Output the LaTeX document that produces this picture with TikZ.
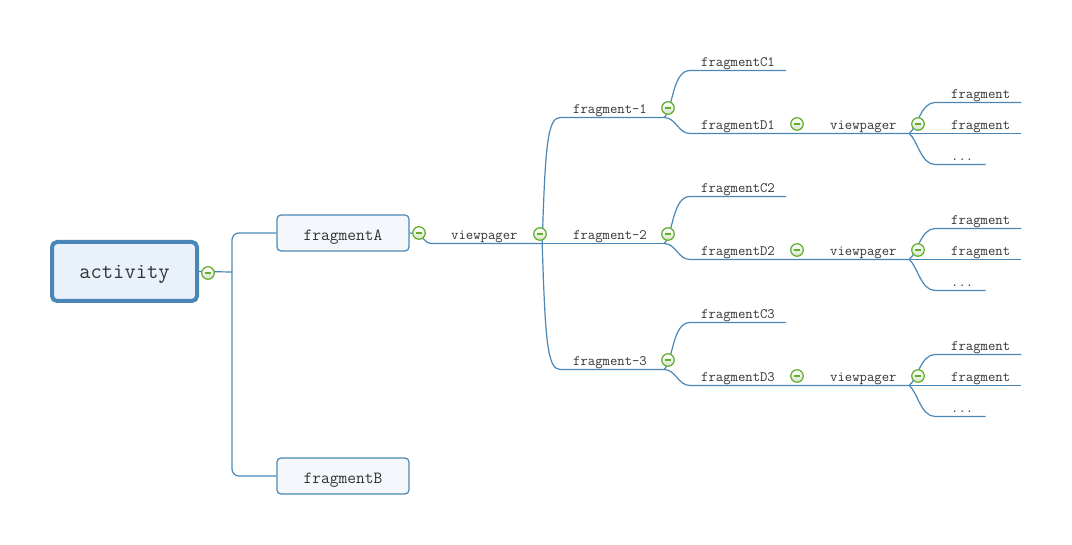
\documentclass[tikz,border=0pt]{standalone}
\usepackage{fontspec}
\usepackage{tikz}

\definecolor{linkblue}{HTML}{4A87B7}
\definecolor{rootfill}{HTML}{E9F1FB}
\definecolor{boxfill}{HTML}{F4F8FD}
\definecolor{foldgreen}{HTML}{62AD2A}
\definecolor{foldfill}{HTML}{D6E3CC}
\definecolor{textgrey}{HTML}{333333}

\tikzset{
  branch/.style={draw=linkblue, line width=1.2pt},
  root/.style={draw=linkblue, line width=4pt, fill=rootfill, rounded corners=5pt,
    minimum width=145pt, minimum height=59pt, text=textgrey,
    text height=18.4pt, text depth=4.8pt,
    font=\ttfamily\fontsize{21.9}{25}\selectfont},
  topic/.style={draw=linkblue, line width=1.2pt, fill=boxfill, rounded corners=4pt,
    minimum width=132pt, minimum height=36pt, text=textgrey,
    text height=18.4pt, text depth=3.7pt,
    font=\ttfamily\fontsize{17}{20}\selectfont},
  sub/.style={anchor=south west, inner xsep=0pt, inner ysep=1pt, text depth=3pt,
    text=textgrey, font=\ttfamily\fontsize{14.3}{17}\selectfont},
  fold/.style={circle, draw=foldgreen, line width=1.2pt, top color=white,
    bottom color=foldfill, minimum size=12.5pt, inner sep=0pt,
    path picture={\draw[foldgreen, line width=1.4pt]
      ([xshift=-3pt]path picture bounding box.center) --
      ([xshift=3pt]path picture bounding box.center);}},
}

\begin{document}
\begin{tikzpicture}[x=1pt, y=-1pt]
\useasboundingbox (0,0) rectangle (1072,545);

% left part
\node[root] (act) at (124.5,271.5) {activity};
\node[topic] (fragA) at (343,233) {fragmentA};
\node[topic] (fragB) at (343,476) {fragmentB};
\coordinate (spine) at (232,272);
\draw[branch] (act.east) -- (spine);
\draw[branch, rounded corners=7pt] (fragA.west) -- (fragA.west -| spine)
  -- (fragB.west -| spine) -- (fragB.west);

\node[sub] (vp) at (451,243.5) {viewpager};
\coordinate (vpj) at ([xshift=24.5pt]vp.south east);
\draw[branch] (fragA.east) .. controls +(14,0) and +(-9,0) ..
  ([xshift=-19pt]vp.south west) -- (vpj);

% three pages
\foreach \g/\dy in {1/0,2/126,3/252} {
  \node[sub] (f\g) at (573,117.5+\dy) {fragment-\g};
  \node[sub] (c\g) at (701,70.5+\dy) {fragmentC\g};
  \node[sub] (d\g) at (701,133.5+\dy) {fragmentD\g};
  \node[sub] (v\g) at (830,133.5+\dy) {viewpager};
  \node[sub] (fa\g) at (951,102.5+\dy) {fragment};
  \node[sub] (fb\g) at (951,133.5+\dy) {fragment};
  \node[sub] (fe\g) at (951,164.5+\dy) {...};
  \coordinate (fj\g) at ([xshift=17pt]f\g.south east);
  \coordinate (vj\g) at ([xshift=12.5pt]v\g.south east);
  \draw[branch] (fj\g) .. controls +(9,-7) and +(-18,0) ..
    ([xshift=-11pt]c\g.south west) -- ([xshift=11pt]c\g.south east);
  \draw[branch] (fj\g) .. controls +(12,0) and +(-12,0) ..
    ([xshift=-11pt]d\g.south west) -- (vj\g);
  \draw[branch] (vj\g) .. controls +(8,-6) and +(-14,0) ..
    ([xshift=-16pt]fa\g.south west) -- ([xshift=11pt]fa\g.south east);
  \draw[branch] (vj\g) -- ([xshift=11pt]fb\g.south east);
  \draw[branch] (vj\g) .. controls +(8,6) and +(-14,0) ..
    ([xshift=-16pt]fe\g.south west) -- ([xshift=12pt]fe\g.south east);
}
\draw[branch] (vpj) .. controls +(3,-93) and +(-13,0) ..
  ([xshift=-13pt]f1.south west) -- (fj1);
\draw[branch] (vpj) -- (fj2);
\draw[branch] (vpj) .. controls +(3,93) and +(-13,0) ..
  ([xshift=-13pt]f3.south west) -- (fj3);

% fold marks
\node[fold] (foldact) at (208,273) {};
\node[fold] (foldA) at (419,233) {};
\node[fold] (foldvp) at (540,234) {};
\foreach \g/\dy in {1/0,2/126,3/252} {
  \node[fold] (foldf\g) at (668,108+\dy) {};
  \node[fold] (foldd\g) at (797,124+\dy) {};
  \node[fold] (foldv\g) at (918,124+\dy) {};
}
\end{tikzpicture}
\end{document}
